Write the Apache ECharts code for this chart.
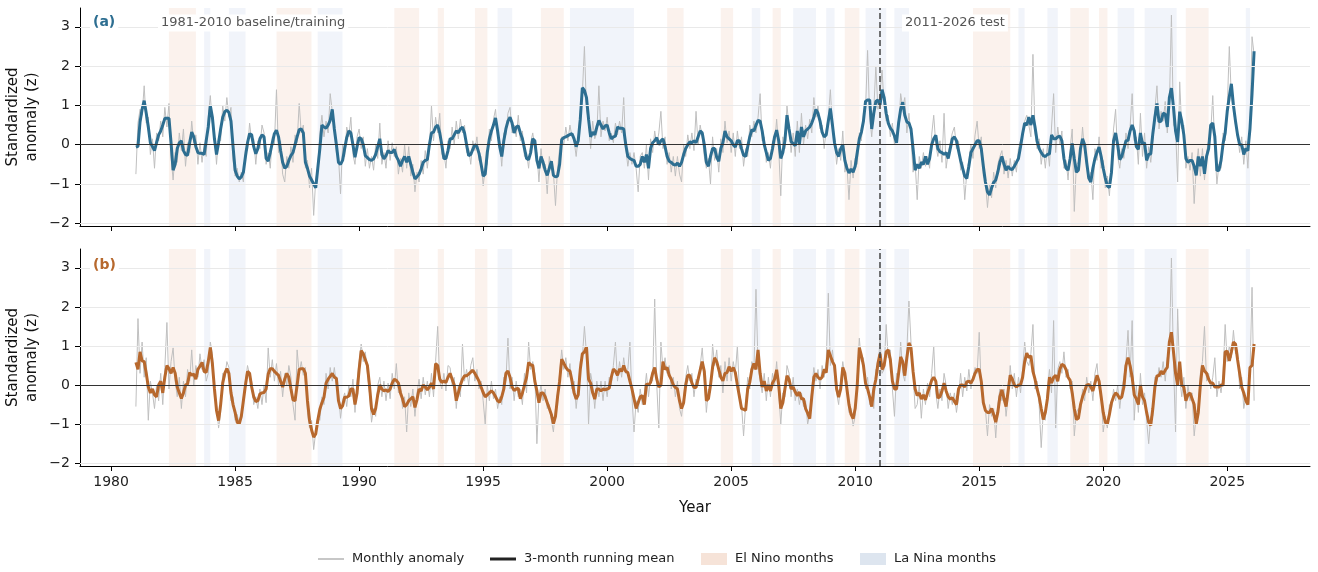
<!DOCTYPE html>
<html><head><meta charset="utf-8">
<script src="https://cdn.jsdelivr.net/npm/echarts@6/dist/echarts.min.js"></script>
<style>html,body{margin:0;padding:0;background:#fff}#c{width:1318px;height:572px}</style>
</head><body><div id="c"></div>
<script>
const startYear = 1981; // first month = Jan 1981, monthly steps
const monthlyA = [
-0.75,0.55,0.9,0.75,1.5,0.55,0.7,-0.25,0.15,-0.6,0.3,0.1,
0.6,0.2,0.95,0.45,1.05,-0.3,-0.9,-0.2,-0.45,0.3,-0.15,0.4,
-0.55,0.05,-0.2,0.6,0.05,0.25,-0.5,0.05,-0.45,0.0,-0.3,0.7,
1.25,0.55,0.3,-0.5,0.2,0.1,1.0,0.6,1.2,0.7,0.95,-0.4,
-0.8,-0.6,-0.95,-0.7,-0.95,-0.1,-0.15,0.55,0.1,0.15,-0.5,0.1,
-0.1,0.5,0.3,-0.5,-0.2,-0.6,0.2,0.0,1.4,-0.2,0.1,-0.75,
-0.95,-0.3,-0.6,-0.05,-0.45,0.25,0.05,1.05,0.3,0.5,-0.6,-0.4,
-1.1,-0.6,-1.8,-0.9,-0.55,0.3,0.75,0.2,0.6,0.3,1.3,0.85,
0.55,-0.2,-0.3,-1.25,0.0,-0.3,0.45,0.2,0.7,-0.25,-0.5,0.2,
0.4,-0.1,0.2,-0.55,-0.1,-0.6,-0.3,-0.65,0.0,-0.35,0.55,-0.5,
-0.2,-0.6,0.1,-0.4,0.05,-0.3,-0.05,-0.75,-0.35,-0.7,0.0,-0.6,
-0.05,-0.8,-0.5,-1.2,-0.7,-0.95,-0.4,-0.75,-0.15,-0.6,-0.1,1.0,
0.1,0.7,0.3,0.8,-0.25,-0.2,-0.6,0.1,-0.1,0.45,0.0,0.6,
0.15,0.65,0.3,0.5,-0.2,-0.1,-0.5,0.1,-0.15,0.2,-0.4,-0.3,
-1.05,-0.6,-0.5,0.4,0.1,0.65,0.9,0.2,0.1,-0.55,0.3,0.25,
0.8,0.95,0.3,0.5,0.2,0.75,0.1,0.35,-0.3,-0.2,-0.6,0.05,
0.3,-0.1,-0.2,-0.95,-0.1,-0.6,-0.5,-1.25,-0.3,-0.55,-0.7,-1.55,
-0.6,-0.1,0.2,0.0,0.45,0.1,0.5,0.2,0.1,-0.3,0.2,0.85,
1.3,2.5,0.9,0.6,-0.1,0.6,0.15,0.3,1.5,0.2,0.6,0.35,
0.7,0.1,0.3,0.05,0.55,0.25,0.6,0.3,1.2,-0.1,-0.55,-0.2,
-0.5,-0.2,-0.6,-1.2,-0.3,-0.2,-0.6,0.0,-0.9,0.15,-0.2,0.35,
0.0,0.3,0.85,-0.1,0.2,-0.5,-0.2,-0.7,-0.3,-0.8,-0.3,-0.75,
-0.95,0.0,-0.3,0.25,-0.1,0.3,-0.15,0.85,0.0,0.5,0.2,-0.3,
-0.6,-0.35,-1.0,0.2,-0.4,-0.1,-0.7,0.15,-0.2,0.6,0.05,0.35,
-0.2,0.3,-0.3,0.35,-0.1,0.2,-0.55,-0.1,-0.3,0.5,0.2,0.6,
0.3,0.7,1.3,0.1,0.2,-0.45,-0.2,-0.6,0.1,0.0,0.65,-0.1,
-1.3,0.2,-0.1,1.0,0.45,-0.2,0.3,-0.3,0.6,-0.2,0.8,0.0,
0.5,0.15,0.65,0.3,1.2,0.7,1.0,0.4,0.5,-0.1,0.4,0.7,
1.4,0.4,0.2,-0.5,-0.1,-0.4,0.35,-0.7,-0.5,-1.4,-0.4,-0.85,
-0.35,-0.5,0.3,0.1,0.8,0.9,2.4,0.7,0.2,0.9,2.0,0.9,
1.3,1.9,1.0,0.6,0.75,0.2,0.55,0.0,0.3,0.4,1.3,0.95,
1.2,0.3,0.8,0.2,-0.7,-0.45,-1.4,-0.3,-0.6,-0.2,-0.55,-0.3,
-0.6,0.25,0.75,0.0,-0.3,0.1,-0.45,0.8,-0.6,-0.2,0.05,0.3,
0.45,-0.1,0.1,-0.65,-0.45,-1.4,-0.7,-0.4,0.0,-0.35,0.25,0.6,
-0.1,0.2,-0.8,-0.9,-1.6,-1.0,-1.35,-0.7,-1.1,-0.5,-0.3,-0.15,
-0.75,-0.4,-0.85,-0.35,-0.8,-0.4,-0.7,-0.1,0.1,0.25,0.6,0.75,
0.5,0.2,2.3,0.3,-0.1,0.15,-0.5,-0.1,-0.6,0.0,-0.55,0.45,
1.3,-0.2,0.45,0.0,0.35,-0.6,-0.4,-0.9,-0.1,0.4,-1.7,-0.5,
-0.45,-0.3,0.45,-0.2,-0.3,-0.9,-0.7,-1.4,-0.1,-0.4,0.2,-0.6,
-0.4,-1.1,-0.8,-1.3,-0.5,0.4,0.9,-0.3,-0.6,-0.1,-0.35,0.3,
-0.1,0.45,1.3,0.1,0.2,-0.5,0.8,-0.3,0.3,-0.6,-0.05,-0.45,
0.1,0.9,1.5,0.4,0.85,0.6,1.1,0.3,1.0,3.3,0.5,0.4,
-0.95,1.6,0.4,0.5,-0.6,-0.3,-0.65,-0.2,-1.5,-0.6,-0.1,-0.8,
-0.1,-0.9,-0.2,0.1,0.3,1.25,-0.1,-1.0,-0.5,-0.6,0.3,0.1,
0.9,2.5,1.2,0.9,0.5,0.3,-0.2,0.2,-0.5,0.1,-0.6,0.5,
2.75,2.3];
const meanA = [
-0.06,-0.04,0.58,0.9,1.12,0.8,0.45,0.05,-0.05,-0.15,0.05,0.25,
0.35,0.5,0.67,0.67,0.67,0.05,-0.65,-0.5,-0.1,0.05,0.1,-0.15,
-0.25,-0.27,0.05,0.32,0.2,-0.05,-0.2,-0.22,-0.22,-0.25,0.1,0.45,
1.0,0.7,0.15,-0.25,0.05,0.4,0.7,0.84,0.88,0.82,0.6,-0.05,
-0.65,-0.8,-0.87,-0.82,-0.7,-0.3,0.05,0.28,0.25,-0.05,-0.23,-0.1,
0.15,0.25,0.2,-0.35,-0.42,-0.2,0.05,0.28,0.37,0.2,-0.15,-0.45,
-0.6,-0.55,-0.4,-0.28,-0.2,0.0,0.2,0.38,0.4,0.3,-0.45,-0.6,
-0.8,-0.9,-1.0,-1.1,-0.6,-0.1,0.5,0.45,0.42,0.5,0.62,0.9,
0.4,0.0,-0.45,-0.5,-0.4,-0.1,0.18,0.35,0.3,0.0,-0.32,-0.05,
0.18,0.15,0.0,-0.28,-0.33,-0.38,-0.4,-0.36,-0.25,-0.05,0.15,-0.25,
-0.36,-0.28,-0.15,-0.2,-0.2,-0.12,-0.3,-0.4,-0.55,-0.4,-0.3,-0.45,
-0.3,-0.5,-0.7,-0.87,-0.82,-0.75,-0.62,-0.45,-0.4,-0.38,0.0,0.3,
0.32,0.45,0.5,0.3,0.0,-0.35,-0.35,-0.15,0.15,0.15,0.25,0.35,
0.3,0.4,0.45,0.3,0.0,-0.28,-0.25,-0.12,0.0,-0.05,-0.22,-0.5,
-0.8,-0.75,-0.2,0.15,0.35,0.5,0.68,0.35,-0.05,-0.3,0.1,0.4,
0.6,0.7,0.55,0.3,0.45,0.48,0.3,0.15,-0.1,-0.35,-0.38,-0.2,
0.15,0.1,-0.4,-0.6,-0.3,-0.45,-0.65,-0.78,-0.6,-0.42,-0.78,-0.82,
-0.8,-0.5,0.13,0.18,0.2,0.23,0.26,0.28,0.15,-0.05,0.1,0.65,
1.45,1.38,1.2,0.65,0.2,0.32,0.25,0.45,0.62,0.5,0.4,0.48,
0.5,0.3,0.15,0.2,0.22,0.45,0.42,0.42,0.4,0.0,-0.3,-0.35,
-0.38,-0.4,-0.55,-0.55,-0.5,-0.3,-0.45,-0.25,-0.6,-0.1,0.05,0.1,
0.18,0.0,0.1,0.15,-0.05,-0.3,-0.42,-0.45,-0.5,-0.52,-0.47,-0.55,
-0.45,-0.25,-0.1,0.0,0.07,0.05,0.1,0.05,0.2,0.35,0.3,0.0,
-0.45,-0.55,-0.3,-0.1,-0.1,-0.32,-0.42,-0.1,0.05,0.35,0.2,0.15,
0.1,0.0,-0.06,0.1,0.1,-0.1,-0.27,-0.3,-0.05,0.2,0.38,0.35,
0.5,0.62,0.6,0.35,0.0,-0.2,-0.4,-0.35,-0.1,0.2,0.37,0.1,
-0.35,-0.2,0.1,0.75,0.4,0.08,0.03,-0.03,0.35,0.0,0.45,0.2,
0.35,0.4,0.45,0.55,0.7,0.9,0.8,0.6,0.32,0.2,0.25,0.6,
0.92,0.5,0.05,-0.2,-0.3,-0.1,0.0,-0.4,-0.6,-0.72,-0.62,-0.7,
-0.55,-0.2,0.15,0.32,0.6,1.1,1.14,1.14,0.4,0.8,1.1,1.14,
1.0,1.4,1.2,0.8,0.55,0.42,0.35,0.22,0.05,0.55,0.9,1.08,
0.75,0.58,0.55,0.4,-0.1,-0.65,-0.5,-0.6,-0.45,-0.5,-0.3,-0.5,
-0.35,0.0,0.15,0.24,-0.1,-0.18,-0.2,-0.25,-0.2,-0.35,-0.1,0.15,
0.2,0.1,-0.15,-0.4,-0.6,-0.8,-0.86,-0.55,-0.2,-0.1,0.0,0.1,
0.1,-0.1,-0.55,-0.95,-1.2,-1.28,-1.1,-0.96,-0.9,-0.7,-0.45,-0.3,
-0.5,-0.65,-0.55,-0.62,-0.63,-0.55,-0.45,-0.35,-0.05,0.28,0.55,0.5,
0.7,0.5,0.75,0.45,0.1,-0.1,-0.2,-0.28,-0.3,-0.25,-0.23,0.25,
0.15,0.15,0.2,0.22,0.1,-0.35,-0.6,-0.65,-0.35,0.03,-0.35,-0.7,
-0.65,-0.1,0.15,0.0,-0.45,-0.85,-0.95,-0.6,-0.35,-0.19,-0.06,-0.3,
-0.6,-0.85,-1.05,-1.09,-0.7,0.1,0.3,0.0,-0.38,-0.3,-0.1,0.1,
0.11,0.35,0.5,0.35,-0.05,-0.12,0.3,0.02,0.05,-0.4,-0.25,-0.23,
0.28,0.7,1.05,0.58,0.6,0.8,0.78,0.45,1.2,1.44,0.95,0.35,
0.07,0.84,0.6,0.25,-0.35,-0.45,-0.4,-0.4,-0.55,-0.78,-0.3,-0.55,
-0.3,-0.74,-0.3,-0.1,0.5,0.55,0.2,-0.66,-0.65,-0.4,0.03,0.3,
0.85,1.22,1.55,1.0,0.6,0.25,0.0,0.0,-0.25,-0.1,-0.15,0.4,
1.3,2.38];
const monthlyB = [
-0.55,1.7,0.3,1.1,0.2,0.7,-0.9,0.1,-0.2,-0.6,0.0,-0.4,
0.3,-0.5,0.45,1.6,-0.1,0.6,0.95,0.1,-0.3,0.2,-0.6,0.1,
-0.3,0.4,0.1,0.9,0.0,0.5,0.2,0.8,0.4,0.65,0.1,0.3,
1.1,0.8,-0.3,-0.5,-1.1,-0.7,0.3,0.2,0.6,0.45,-0.4,-0.3,
-0.9,-0.75,-1.0,-0.85,-0.3,0.1,0.5,0.25,0.1,-0.5,-0.3,-0.6,
-0.1,-0.5,0.0,-0.45,0.95,0.2,0.65,0.1,0.55,0.0,0.35,-0.3,
0.3,0.0,0.5,0.2,-0.5,-0.9,0.9,0.3,0.6,0.25,0.45,-0.7,
-1.1,-0.9,-1.65,-1.2,-0.8,-0.9,-0.3,-0.5,0.3,-0.1,0.45,0.1,
0.45,0.0,-0.2,-0.85,-0.4,-0.2,-0.55,0.0,-0.3,0.15,-0.7,0.1,
0.6,1.05,0.6,0.85,0.3,-0.2,-0.95,-0.6,-0.8,0.0,0.2,-0.3,
0.1,-0.4,0.05,-0.35,0.3,-0.1,0.55,-0.2,0.0,-0.6,-0.3,-1.2,
-0.2,-0.55,-0.1,-0.8,-0.2,0.15,-0.35,0.2,-0.25,0.1,-0.3,0.3,
-0.3,0.6,1.5,0.1,-0.1,0.3,-0.15,0.5,0.45,0.0,0.2,-0.6,
0.0,-0.3,1.05,0.1,0.4,0.0,0.5,0.7,0.1,0.4,-0.1,0.1,
-0.4,-1.0,0.0,-0.4,0.1,-0.35,-0.1,-0.6,-0.3,-0.5,0.2,0.1,
1.2,-0.1,0.2,-0.4,0.1,-0.3,-0.1,-0.5,0.3,-0.2,1.1,0.4,
0.6,0.3,-1.5,-0.3,0.0,-0.4,-0.1,-0.6,-0.5,-0.9,-1.2,-0.6,
-0.5,0.3,0.9,0.4,0.7,0.2,0.55,-0.1,0.1,-0.6,-0.1,0.6,
0.7,1.5,0.8,-1.0,0.3,0.0,-0.6,0.1,-0.3,0.1,-0.4,0.1,
-0.3,0.2,0.0,0.5,1.1,0.1,0.6,0.2,0.7,0.3,0.4,1.1,
-0.3,-1.2,-0.4,-0.7,-0.1,-0.5,-0.2,0.3,-0.3,0.2,0.1,2.2,
0.0,-1.1,1.1,0.4,0.7,0.3,0.5,-0.1,0.2,-0.3,0.1,-0.6,
-0.8,-0.3,0.2,0.5,0.1,0.3,-0.3,0.15,0.0,0.5,0.95,0.2,
-0.7,-0.1,-0.2,1.05,0.5,0.9,0.2,0.5,-0.2,0.6,0.1,0.7,
0.1,0.6,0.3,1.0,-0.2,-0.5,-1.3,-0.5,0.2,-0.1,0.6,0.4,
2.45,0.5,0.1,-0.2,0.3,-0.4,0.2,-0.3,0.3,0.0,0.6,-0.2,
-1.0,-0.2,-0.3,0.5,0.3,-0.3,0.2,-0.4,-0.1,-0.5,-0.2,-0.55,
-0.4,-1.0,-0.75,-0.1,0.45,0.1,0.4,-0.1,0.5,0.2,0.6,2.35,
0.5,0.9,0.3,-0.2,-0.5,0.1,0.6,0.2,0.1,-0.7,-0.6,-1.05,
-0.8,0.2,1.2,0.6,0.7,-0.1,0.2,-0.5,-0.3,-0.6,0.4,0.3,
1.2,0.3,0.4,1.55,0.7,0.9,-0.1,-0.8,0.3,0.2,1.1,0.3,
0.1,0.9,2.15,1.1,0.3,-0.6,-0.5,0.0,-0.85,-0.1,-0.5,0.05,
-0.3,0.3,1.0,-0.2,-0.6,-0.1,-0.4,0.3,0.0,-0.6,-0.2,-0.5,
-0.2,-0.7,-0.3,0.3,-0.3,0.2,-0.15,0.4,-0.1,0.2,0.45,0.3,
1.35,-0.1,-0.5,-0.6,-1.3,-0.5,-0.8,-0.6,-1.35,-0.5,-0.1,-0.4,
-0.1,-0.8,-0.3,0.5,-0.1,0.3,-0.3,0.2,-0.2,0.4,1.1,0.6,
0.5,0.8,1.55,-0.1,0.1,-0.5,-1.6,-0.7,-0.9,-0.1,0.4,-0.2,
1.65,-1.1,0.4,0.6,0.3,0.85,0.2,0.4,-0.1,0.1,-1.3,-0.7,
-0.6,-0.7,-0.1,-0.4,0.2,-0.2,0.1,-0.4,0.3,0.55,-0.1,-0.2,
-1.2,-0.8,-1.1,-0.5,-0.6,-0.1,-0.4,0.0,-0.6,-0.1,0.2,0.6,
1.4,0.2,1.65,-0.9,0.0,-0.7,0.3,-0.5,-0.2,-0.9,-1.5,-0.8,
-0.8,0.2,0.1,0.45,0.2,0.6,0.1,0.7,0.9,3.25,0.6,-1.2,
1.95,0.2,-0.3,0.2,-0.6,0.0,-0.4,-0.2,-1.3,-0.8,-0.5,0.3,
0.6,1.5,0.1,0.3,-0.1,0.2,0.7,-0.3,0.1,-0.2,0.3,1.55,
0.6,1.0,0.7,1.4,0.8,0.9,-0.1,0.2,-0.6,-0.3,-0.45,0.3,
2.5,-0.4];
const meanB = [
0.58,0.4,0.85,0.62,0.6,0.3,-0.05,-0.2,-0.1,-0.25,-0.3,0.0,
0.1,-0.2,0.2,0.5,0.42,0.3,0.45,0.3,-0.05,-0.2,-0.34,-0.2,
0.0,0.03,0.32,0.25,0.28,0.15,0.4,0.48,0.58,0.35,0.32,0.6,
0.96,0.55,-0.1,-0.65,-0.91,-0.5,0.05,0.3,0.42,0.3,-0.2,-0.5,
-0.7,-0.95,-0.99,-0.8,-0.4,0.0,0.35,0.3,-0.05,-0.3,-0.42,-0.4,
-0.23,-0.2,-0.19,-0.1,0.28,0.42,0.42,0.35,0.3,0.25,0.1,-0.05,
0.15,0.3,0.2,-0.1,-0.38,-0.4,0.0,0.4,0.42,0.42,0.3,-0.4,
-0.9,-1.15,-1.33,-1.25,-0.9,-0.62,-0.45,-0.31,0.05,0.15,0.22,0.3,
0.2,0.17,-0.4,-0.6,-0.53,-0.31,-0.31,-0.28,-0.1,-0.1,-0.5,-0.2,
0.4,0.88,0.8,0.65,0.5,0.0,-0.6,-0.75,-0.6,-0.25,0.0,-0.1,
-0.15,-0.12,-0.17,-0.1,0.05,0.15,0.12,0.05,-0.2,-0.35,-0.55,-0.5,
-0.4,-0.35,-0.3,-0.57,-0.37,-0.1,-0.15,0.0,-0.05,-0.12,-0.05,0.05,
-0.1,0.55,0.5,0.15,0.07,0.1,0.07,0.2,0.3,0.15,0.0,-0.4,
-0.2,0.0,0.15,0.24,0.24,0.28,0.33,0.38,0.3,0.2,0.1,-0.05,
-0.19,-0.3,-0.25,-0.2,-0.15,-0.2,-0.3,-0.4,-0.44,-0.3,-0.1,0.3,
0.36,0.2,-0.05,-0.14,-0.1,-0.08,-0.35,-0.2,0.0,0.2,0.58,0.52,
0.5,0.1,-0.15,-0.45,-0.2,-0.2,-0.3,-0.45,-0.6,-0.75,-0.99,-0.8,
-0.3,0.1,0.66,0.56,0.45,0.38,0.36,0.1,-0.2,-0.36,-0.25,0.4,
0.8,0.85,0.98,0.15,0.05,-0.2,-0.36,-0.1,-0.1,-0.15,-0.1,-0.12,
-0.1,-0.08,0.2,0.41,0.36,0.25,0.41,0.35,0.5,0.35,0.32,0.1,
-0.1,-0.35,-0.6,-0.45,-0.3,-0.27,-0.5,0.03,0.0,0.07,0.3,0.45,
0.15,-0.05,0.0,0.6,0.4,0.45,0.25,0.15,0.0,-0.06,-0.1,-0.4,
-0.6,-0.45,0.0,0.25,0.25,0.05,-0.06,-0.06,0.15,0.38,0.6,0.35,
-0.4,-0.35,0.0,0.45,0.7,0.6,0.4,0.2,0.11,0.3,0.32,0.47,
0.35,0.45,0.32,0.0,-0.3,-0.6,-0.62,-0.65,-0.1,0.07,0.4,0.55,
0.4,0.9,0.3,-0.05,0.1,-0.15,0.0,-0.15,0.05,0.15,0.39,0.0,
-0.6,-0.45,-0.1,0.24,0.15,-0.1,-0.05,-0.18,-0.27,-0.18,-0.35,-0.35,
-0.6,-0.72,-0.86,-0.3,0.2,0.3,0.2,0.15,0.2,0.4,0.32,0.9,
0.75,0.6,0.5,-0.1,-0.31,-0.1,0.45,0.3,-0.1,-0.5,-0.75,-0.86,
-0.6,0.0,0.96,0.75,0.5,0.05,-0.1,-0.3,-0.55,-0.1,0.15,0.55,
0.8,0.4,0.5,0.85,0.9,0.65,0.1,-0.1,-0.1,0.3,0.72,0.6,
0.24,0.7,1.08,0.95,0.35,-0.1,-0.27,-0.2,-0.36,-0.25,-0.38,-0.2,
-0.05,0.12,0.2,0.1,-0.33,-0.3,-0.15,0.05,-0.15,-0.3,-0.36,-0.32,
-0.42,-0.5,-0.1,0.0,0.0,-0.05,0.08,0.1,0.05,0.15,0.3,0.4,
0.4,0.1,-0.45,-0.65,-0.7,-0.7,-0.6,-0.75,-0.95,-0.7,-0.3,-0.12,
-0.35,-0.55,-0.15,0.25,0.15,0.0,-0.05,0.0,0.0,0.2,0.6,0.82,
0.7,0.75,0.35,0.15,-0.1,-0.3,-0.6,-0.88,-0.7,-0.35,0.2,0.05,
0.2,0.25,0.1,0.4,0.53,0.5,0.4,0.2,0.12,-0.2,-0.6,-0.88,
-0.85,-0.5,-0.3,-0.15,0.0,0.02,-0.05,-0.15,0.05,0.25,0.1,-0.3,
-0.7,-0.95,-1.0,-0.75,-0.45,-0.3,-0.2,-0.25,-0.35,-0.3,-0.05,0.5,
0.7,0.5,0.2,-0.25,-0.35,-0.5,0.0,-0.3,-0.4,-0.7,-0.95,-1.03,
-0.6,-0.05,0.24,0.24,0.36,0.28,0.38,0.45,1.1,1.35,0.85,0.3,
0.0,0.6,0.0,-0.05,-0.4,-0.25,-0.2,-0.35,-0.5,-1.0,-0.7,0.0,
0.5,0.36,0.3,0.15,0.05,0.05,-0.05,-0.05,-0.05,0.0,0.0,0.85,
0.87,0.62,0.85,1.1,1.05,0.65,0.3,-0.05,-0.2,-0.4,-0.5,0.45,
0.5,1.05];
const elNino = [[1982.33,1983.42],[1986.67,1988.08],[1991.42,1992.42],[1993.17,1993.42],[1994.67,1995.17],[1997.33,1998.25],[2002.42,2003.08],[2004.58,2005.08],[2006.67,2007.0],[2009.58,2010.17],[2014.75,2016.25],[2018.67,2019.42],[2019.83,2020.17],[2023.33,2024.25]];
const laNina = [[1983.75,1984.0],[1984.75,1985.42],[1988.33,1989.33],[1995.58,1996.17],[1998.5,2001.08],[2005.83,2006.17],[2007.5,2008.42],[2008.83,2009.17],[2010.42,2011.25],[2011.58,2012.17],[2016.58,2016.83],[2017.75,2018.17],[2020.58,2021.25],[2021.67,2022.96],[2025.75,2025.92]];
const xTicks = [1980,1985,1990,1995,2000,2005,2010,2015,2020,2025];
const yTicks = [-2,-1,0,1,2,3];
const gridYs = [-2,-1,1,2,3];
const splitYear = 2011;
const panelLabels = ['(a)','(b)'];
const periodLabels = ['1981-2010 baseline/training','2011-2026 test'];
const legendNames = ['Monthly anomaly','3-month running mean','El Nino months','La Nina months'];

const FONT = 'DejaVu Sans';
const colA = '#2d6e91', colB = '#b7682d';
const ninoCol = 'rgba(222,150,110,0.12)', ninaCol = 'rgba(140,165,210,0.12)';
const toPairs = arr => arr.map((v,i)=>[startYear + i/12, v]);
const X_MIN = 1978.746, X_MAX = 2028.337;

function xAxis(idx, showLabels){
  return {type:'value', gridIndex:idx, min:X_MIN, max:X_MAX,
    splitLine:{show:false},
    axisLine:{show:true, onZero:false, lineStyle:{color:'#000', width:1}},
    axisTick:{show:true, customValues:xTicks, length:5, lineStyle:{color:'#000'}},
    axisLabel:{show:showLabels, customValues:xTicks, fontSize:14, color:'#222', margin:9, fontFamily:FONT,
      formatter:v=>String(v)},
    name: showLabels ? 'Year' : '', nameLocation:'middle', nameGap:35,
    nameTextStyle:{fontSize:15, color:'#111', fontFamily:FONT}};
}
function yAxis(idx){
  return {type:'value', gridIndex:idx, min:-2.07, max:3.48,
    splitLine:{show:false},
    axisLine:{show:true, onZero:false, lineStyle:{color:'#000', width:1}},
    axisTick:{show:true, customValues:yTicks, length:5, lineStyle:{color:'#000'}},
    axisLabel:{customValues:yTicks, fontSize:14, color:'#222', margin:10, fontFamily:FONT,
      formatter:v=> (v<0?'\u2212'+Math.abs(v):String(v))},
    name:'Standardized\nanomaly (z)', nameLocation:'middle', nameRotate:90, nameGap:38, nameMoveOverlap:false,
    nameTextStyle:{fontSize:15, color:'#111', fontFamily:FONT, lineHeight:19}};
}
function panelSeries(idx, monthly, mean, col){
  const bands = elNino.map(([s,e])=>[{xAxis:s, itemStyle:{color:ninoCol}},{xAxis:e}])
    .concat(laNina.map(([s,e])=>[{xAxis:s, itemStyle:{color:ninaCol}},{xAxis:e}]));
  return [
    {type:'line', xAxisIndex:idx, yAxisIndex:idx, data:[[startYear,0]], symbol:'none', silent:true, z:1,
      lineStyle:{opacity:0},
      markArea:{silent:true, data:bands},
      markLine:{silent:true, symbol:['none','none'], label:{show:false},
        lineStyle:{color:'#e9e9e9', width:1, type:'solid'},
        data:gridYs.map(y=>({yAxis:y}))}},
    {type:'line', xAxisIndex:idx, yAxisIndex:idx, data:toPairs(monthly), symbol:'none', z:2,
      lineStyle:{color:'#bfbfbf', width:1},
      markLine:{silent:true, symbol:['none','none'], label:{show:false},
        data:[{yAxis:0, lineStyle:{color:'#333', width:1, type:'solid'}},
              {xAxis:splitYear, lineStyle:{color:'#444', width:1.5, type:[6,3]}}]}},
    {type:'line', xAxisIndex:idx, yAxisIndex:idx, data:toPairs(mean), symbol:'none', z:3,
      lineStyle:{color:col, width:3}}
  ];
}
const txt = (text,x,y,font,fill,bg)=>({type:'text', z:50, style:{text, x, y, font, fill, verticalAlign:'middle',
  backgroundColor:bg?'#fff':null, padding:bg?[2,3]:0}});
const LF = '13px "DejaVu Sans"';
const graphics = [
  txt(panelLabels[0], 90, 22, 'bold 14px "DejaVu Sans"', colA, true),
  txt(periodLabels[0], 158, 23, '13px "DejaVu Sans"', '#555', true),
  txt(periodLabels[1], 902, 23, '13px "DejaVu Sans"', '#555', true),
  txt(panelLabels[1], 90, 265, 'bold 14px "DejaVu Sans"', colB, true),
  {type:'line', shape:{x1:318,y1:559,x2:344,y2:559}, style:{stroke:'#b5b5b5', lineWidth:1.5}},
  txt(legendNames[0], 352, 559, LF, '#222'),
  {type:'line', shape:{x1:490,y1:559,x2:516,y2:559}, style:{stroke:'#222', lineWidth:3}},
  txt(legendNames[1], 524, 559, LF, '#222'),
  {type:'rect', shape:{x:701,y:553,width:26,height:12}, style:{fill:'#f6e3d8'}},
  txt(legendNames[2], 735, 559, LF, '#222'),
  {type:'rect', shape:{x:860,y:553,width:26,height:12}, style:{fill:'#dde5ef'}},
  txt(legendNames[3], 894, 559, LF, '#222')
];
const chart = echarts.init(document.getElementById('c'), null, {renderer:'canvas'});
chart.setOption({
  animation:false,
  textStyle:{fontFamily:FONT},
  grid:[{left:80, right:8, top:8, height:218, outerBoundsMode:'none', containLabel:false},
        {left:80, right:8, top:249, height:217, outerBoundsMode:'none', containLabel:false}],
  xAxis:[xAxis(0,false), xAxis(1,true)],
  yAxis:[yAxis(0), yAxis(1)],
  series:[...panelSeries(0, monthlyA, meanA, colA), ...panelSeries(1, monthlyB, meanB, colB)],
  graphic:graphics
});
</script></body></html>
